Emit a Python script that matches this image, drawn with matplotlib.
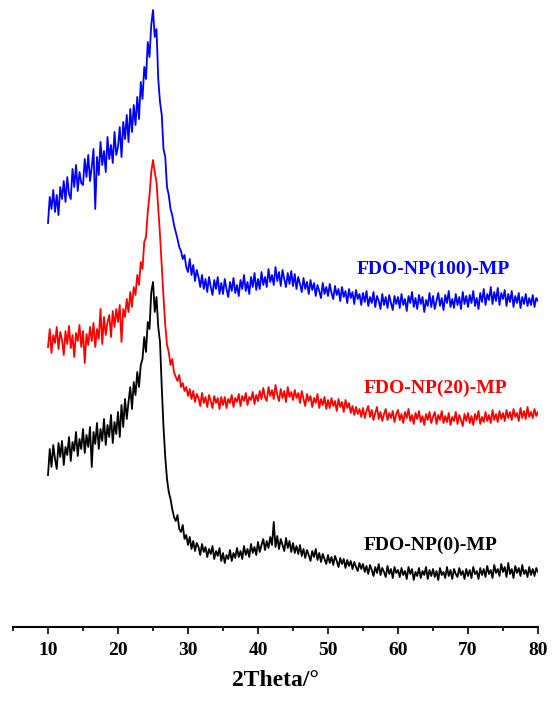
import numpy as np
import matplotlib
matplotlib.use("Agg")
import matplotlib.pyplot as plt
from matplotlib.ticker import MultipleLocator

# 2theta scan grid (deg), 0.25 deg step
two_theta = np.arange(10, 80.25, 0.25)

# intensities (a.u., offset stacked), 20 values per 5 deg
fdo_np100 = [
    404, 430, 418, 437, 415, 432, 412, 440, 428, 446, 425, 450, 433, 428, 458, 440, 462, 436, 455, 444,
    442, 468, 450, 472, 446, 460, 478, 418, 470, 452, 485, 462, 476, 455, 490, 468, 482, 464, 495, 472,
    480, 500, 470, 505, 488, 512, 485, 518, 495, 522, 502, 530, 508, 545, 528, 560, 548, 585, 570, 602,
    617, 590, 598, 548, 525, 512, 478, 470, 440, 432, 418, 412, 402, 395, 388, 380, 376, 368, 372, 360,
    355, 368, 352, 362, 346, 357, 350, 340, 352, 338, 348, 335, 350, 340, 332, 347, 338, 350, 333, 344,
    333, 348, 338, 330, 345, 336, 349, 334, 342, 331, 347, 338, 352, 336, 345, 333, 350, 340, 354, 337,
    348, 338, 355, 342, 350, 340, 358, 345, 352, 342, 360, 346, 355, 341, 357, 348, 340, 354, 343, 356,
    341, 353, 338, 350, 343, 335, 349, 338, 345, 333, 347, 337, 344, 331, 342, 336, 329, 344, 333, 340,
    331, 343, 334, 328, 341, 332, 338, 326, 340, 330, 336, 324, 338, 329, 335, 323, 337, 328, 333, 322,
    334, 325, 336, 321, 330, 324, 335, 320, 331, 326, 318, 333, 322, 330, 319, 332, 324, 317, 331, 323,
    330, 319, 333, 322, 328, 316, 331, 324, 335, 320, 329, 318, 332, 323, 330, 315, 327, 321, 334, 320,
    331, 318, 326, 334, 321, 329, 317, 332, 324, 336, 320, 328, 319, 333, 322, 330, 318, 335, 323, 331,
    320, 332, 324, 336, 321, 329, 318, 334, 325, 338, 322, 333, 327, 340, 323, 335, 326, 339, 322, 334,
    328, 337, 321, 333, 325, 336, 320, 331, 324, 334, 319, 330, 323, 333, 321, 329, 322, 332, 320, 329,
    326,
]

fdo_np20 = [
    280, 298, 274, 292, 284, 300, 278, 295, 287, 272, 296, 283, 301, 279, 292, 270, 294, 286, 302, 280,
    296, 264, 293, 282, 300, 286, 304, 280, 298, 288, 318, 283, 310, 292, 305, 312, 290, 316, 300, 318,
    305, 322, 285, 318, 310, 328, 315, 335, 320, 340, 332, 352, 342, 365, 358, 385, 390, 415, 432, 455,
    467, 455, 445, 418, 392, 360, 330, 302, 282, 275, 262, 268, 255, 250, 246, 252, 240, 244, 236, 240,
    231, 238, 228, 236, 225, 233, 229, 221, 234, 224, 230, 220, 232, 226, 219, 231, 224, 229, 218, 230,
    222, 230, 219, 228, 224, 232, 220, 229, 225, 233, 221, 231, 226, 234, 222, 230, 227, 235, 223, 232,
    226, 236, 228, 239, 230, 226, 240, 231, 237, 228, 242, 232, 226, 238, 229, 236, 225, 240, 230, 235,
    227, 237, 229, 234, 224, 236, 228, 221, 233, 226, 231, 220, 229, 224, 233, 219, 228, 222, 230, 218,
    227, 219, 229, 221, 226, 216, 228, 220, 225, 215, 227, 219, 224, 214, 221, 212, 220, 213, 218, 210,
    219, 209, 216, 221, 210, 217, 207, 214, 220, 208, 215, 206, 213, 218, 207, 214, 209, 216, 205, 213,
    217, 207, 213, 204, 215, 209, 218, 206, 212, 203, 214, 208, 216, 205, 211, 202, 213, 207, 215, 204,
    210, 215, 203, 212, 207, 216, 204, 211, 205, 214, 202, 210, 206, 215, 203, 212, 207, 201, 213, 206,
    214, 204, 211, 202, 213, 207, 216, 203, 210, 205, 215, 206, 212, 204, 217, 207, 213, 205, 216, 208,
    214, 206, 217, 209, 215, 207, 218, 210, 214, 206, 219, 209, 216, 208, 220, 210, 215, 209, 218, 211,
    215,
]

fdo_np0 = [
    152, 178, 160, 182, 168, 158, 184, 170, 186, 162, 180, 172, 190, 166, 185, 176, 195, 171, 188, 178,
    198, 174, 192, 180, 200, 160, 195, 183, 204, 178, 198, 186, 208, 182, 202, 190, 212, 184, 205, 193,
    215, 190, 222, 200, 228, 208, 225, 240, 218, 245, 232, 255, 240, 262, 268, 290, 275, 305, 298, 335,
    345, 315, 330, 300, 285, 240, 200, 170, 148, 135, 128, 118, 110, 106, 112, 98, 95, 102, 88, 92,
    82, 90, 78, 86, 76, 84, 80, 72, 83, 75, 80, 70, 78, 73, 81, 68, 76, 71, 79, 66,
    74, 64, 72, 68, 77, 66, 74, 69, 79, 70, 76, 68, 81, 72, 78, 70, 83, 74, 80, 72,
    85, 75, 82, 88, 77, 86, 79, 90, 82, 105, 80, 91, 78, 88, 82, 76, 89, 79, 86, 75,
    84, 74, 81, 73, 82, 71, 78, 69, 77, 72, 66, 76, 70, 78, 67, 74, 65, 73, 68, 63,
    72, 64, 70, 62, 71, 66, 60, 69, 63, 68, 59, 67, 61, 66, 58, 65, 60, 56, 64, 58,
    63, 55, 61, 53, 62, 57, 51, 60, 54, 63, 52, 59, 55, 50, 61, 53, 58, 49, 60, 54,
    57, 50, 59, 52, 56, 48, 60, 53, 58, 47, 55, 51, 59, 49, 56, 52, 60, 48, 57, 51,
    58, 50, 56, 47, 59, 52, 55, 49, 60, 51, 57, 48, 58, 53, 50, 59, 52, 56, 48, 58,
    51, 57, 49, 60, 53, 56, 48, 59, 52, 58, 50, 61, 53, 57, 49, 62, 54, 58, 51, 63,
    55, 60, 50, 64, 53, 58, 49, 61, 54, 59, 51, 62, 53, 57, 50, 60, 52, 58, 51, 59,
    55,
]

names = ["FDO-NP(100)-MP", "FDO-NP(20)-MP", "FDO-NP(0)-MP"]
colors = ["#0000FF", "#FF0000", "#000000"]
series = [fdo_np100, fdo_np20, fdo_np0]
label_pos = [(54.1, 358), (55.1, 239), (55.1, 82)]

plt.rcParams['font.family'] = ['Liberation Serif', 'DejaVu Serif']
plt.rcParams['font.weight'] = 'bold'

fig = plt.figure(figsize=(5.52, 7.02), dpi=100)
ax = fig.add_axes([13 / 552, 75 / 702, 525 / 552, 627 / 702])

for vals, c in zip(series, colors):
    ax.plot(two_theta, vals, color=c, lw=1.3)

for name, c, (tx, ty) in zip(names, colors, label_pos):
    ax.text(tx, ty, name, color=c, fontsize=14, fontweight='bold', va='center', ha='left')

ax.set_xlim(5, 80)
ax.set_ylim(0, 627)
for s in ['left', 'right', 'top']:
    ax.spines[s].set_visible(False)
ax.spines['bottom'].set_linewidth(1.5)
ax.set_yticks([])
ax.xaxis.set_major_locator(MultipleLocator(10))
ax.xaxis.set_minor_locator(MultipleLocator(5))
ax.set_xticks(np.arange(10, 81, 10))
ax.tick_params(axis='x', which='major', direction='out', length=5, width=1.2, labelsize=14, pad=6)
ax.tick_params(axis='x', which='minor', direction='out', length=3, width=1.2)
for lbl in ax.get_xticklabels():
    lbl.set_fontweight('bold')
ax.set_xlabel("2Theta/°", fontsize=17, fontweight='bold', labelpad=8)
ax.patch.set_alpha(0)

fig.savefig("out.png", dpi=100)
